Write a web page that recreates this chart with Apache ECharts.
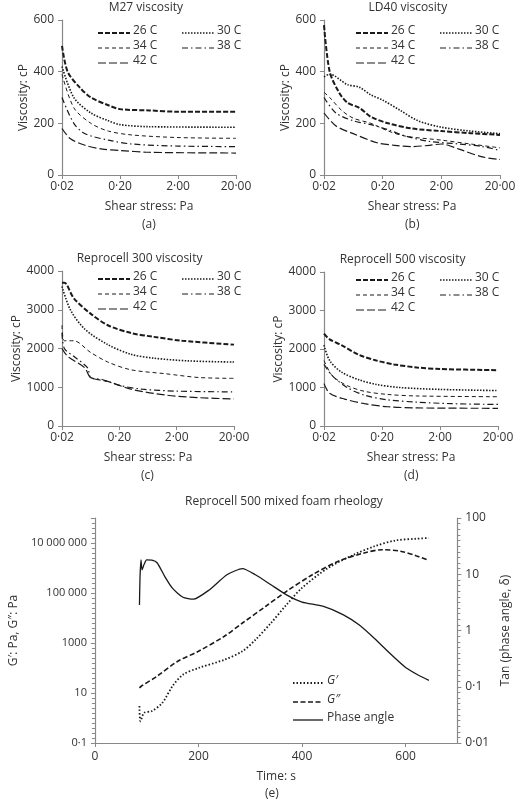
<!DOCTYPE html>
<html><head><meta charset="utf-8">
<script src="https://cdn.jsdelivr.net/npm/echarts@6/dist/echarts.min.js"></script>
<style>html,body{margin:0;background:#fff}#c{width:520px;height:802px}</style>
</head><body><div id="c"></div>
<script>
// viscosity curves: [shear stress Pa, viscosity cP]
const m27_26 = [[0.02,500],[0.025,400],[0.04,340],[0.063,300],[0.126,270],[0.2,255],[0.63,250],[2,245],[20,245]];
const m27_30 = [[0.02,420],[0.032,300],[0.063,240],[0.126,210],[0.2,195],[0.63,187],[20,185]];
const m27_34 = [[0.02,390],[0.032,260],[0.063,200],[0.126,170],[0.32,155],[2,145],[20,142]];
const m27_38 = [[0.02,300],[0.032,200],[0.05,160],[0.126,135],[0.32,120],[2,112],[20,110]];
const m27_42 = [[0.02,180],[0.028,140],[0.05,115],[0.1,100],[0.2,95],[0.63,88],[20,85]];

const ld_26 = [[0.02,580],[0.025,400],[0.036,320],[0.05,280],[0.08,260],[0.126,225],[0.25,200],[0.63,180],[2,170],[6.3,162],[20,155]];
const ld_30 = [[0.02,380],[0.025,390],[0.05,350],[0.08,340],[0.126,310],[0.2,290],[0.4,250],[0.8,210],[2,185],[6.3,170],[20,160]];
const ld_34 = [[0.02,320],[0.025,300],[0.04,250],[0.063,220],[0.126,200],[0.25,170],[0.5,150],[2,135],[6.3,120],[20,105]];
const ld_38 = [[0.02,300],[0.032,240],[0.063,210],[0.126,195],[0.25,175],[0.5,150],[1.26,130],[4,120],[10,110],[20,95]];
const ld_42 = [[0.02,240],[0.032,190],[0.063,160],[0.16,125],[0.32,115],[0.63,110],[1.26,115],[2,120],[4,100],[10,70],[20,60]];

const r300_26 = [[0.02,3700],[0.022,3700],[0.032,3300],[0.063,2900],[0.126,2600],[0.32,2400],[0.8,2300],[2.5,2200],[20,2100]];
const r300_30 = [[0.02,3600],[0.028,3000],[0.05,2500],[0.126,2100],[0.32,1850],[0.8,1750],[3.2,1680],[20,1650]];
const r300_34 = [[0.02,2600],[0.022,2200],[0.032,2200],[0.063,1900],[0.126,1650],[0.32,1450],[1.26,1350],[5,1250],[20,1230]];
const r300_38 = [[0.02,2400],[0.022,2000],[0.032,1800],[0.056,1500],[0.063,1250],[0.1,1200],[0.2,1050],[0.5,950],[2,900],[20,880]];
const r300_42 = [[0.02,2000],[0.025,1800],[0.05,1500],[0.063,1250],[0.126,1150],[0.32,950],[1.26,800],[5,730],[20,700]];

const r500_26 = [[0.02,2400],[0.025,2250],[0.04,2100],[0.08,1850],[0.16,1700],[0.32,1600],[0.8,1520],[2,1480],[20,1450]];
const r500_30 = [[0.02,2100],[0.025,1700],[0.04,1400],[0.08,1200],[0.16,1080],[0.4,1000],[2,950],[20,920]];
const r500_34 = [[0.02,1700],[0.028,1300],[0.05,1050],[0.1,900],[0.25,820],[0.8,780],[20,760]];
const r500_38 = [[0.02,1600],[0.028,1300],[0.05,1000],[0.1,800],[0.25,680],[0.8,620],[3.2,580],[20,560]];
const r500_42 = [[0.02,1100],[0.025,850],[0.045,700],[0.1,580],[0.25,500],[0.8,470],[20,460]];

// foam rheology: [time s, value]
const gPrime = [[86,3],[88,0.74],[95,1.6],[110,1.9],[130,4],[150,19],[170,54],[200,100],[250,214],[285,470],[310,1350],[340,6300],[370,34000],[400,160000],[450,1e6],[500,3.4e6],[540,7.4e6],[580,1.26e7],[620,1.48e7],[645,1.58e7]];
const gDouble = [[86,16],[90,19],[120,47],[160,186],[200,468],[250,1860],[285,6300],[330,29500],[370,117000],[420,537000],[470,1.86e6],[520,4e6],[555,5.4e6],[590,4.7e6],[620,3.1e6],[645,2e6]];
const phase = [[86,2.85],[87,8.5],[89,18],[91,12],[95,15],[100,18],[110,17.8],[120,16],[135,9.1],[150,5.6],[170,3.9],[190,3.6],[220,5.2],[255,9.8],[285,12.6],[310,9.8],[340,6.5],[370,4.3],[400,3.2],[440,2.7],[480,1.9],[510,1.26],[540,0.72],[570,0.39],[600,0.22],[625,0.16],[645,0.13]];

const temps = ['26 C','30 C','34 C','38 C','42 C'];
const leftTicks = ['0·1','10','1000','100 000','10 000 000'];
const rightTicks = ['0·01','0·1','1','10','100'];
const styles = [
  {width:2, type:[5,2]},
  {width:1.6, type:[1.5,1.5]},
  {width:1, type:[4,3]},
  {width:1.2, type:[6,3,1.5,3]},
  {width:1.2, type:[8,3]}
];
const ink = '#1a1a1a', grey = '#888', txt = '#333';
const font = '"Open Sans", sans-serif';
const dot = s => s.replace('.', '·');

const panels = [
  {title:'M27 viscosity', tag:'(a)', max:600, step:200, grid:{left:62,top:20,width:174,height:155}, curves:[m27_26,m27_30,m27_34,m27_38,m27_42]},
  {title:'LD40 viscosity', tag:'(b)', max:600, step:200, grid:{left:324,top:20,width:176,height:155}, curves:[ld_26,ld_30,ld_34,ld_38,ld_42]},
  {title:'Reprocell 300 viscosity', tag:'(c)', max:4000, step:1000, grid:{left:62,top:271,width:172,height:155}, curves:[r300_26,r300_30,r300_34,r300_38,r300_42]},
  {title:'Reprocell 500 viscosity', tag:'(d)', max:4000, step:1000, grid:{left:324,top:272,width:174,height:154}, curves:[r500_26,r500_30,r500_34,r500_38,r500_42]}
];

const grids = [], xAxes = [], yAxes = [], series = [], graphic = [];
const axisBase = {
  axisLine:{show:true, lineStyle:{color:grey, width:1.2}},
  axisTick:{show:true, length:4, lineStyle:{color:grey}},
  splitLine:{show:false},
  axisLabel:{color:txt, fontFamily:font, fontSize:12}
};
const text = (x, y, s, extra) => graphic.push({type:'text', left:x, top:y, style:Object.assign({text:s, fill:txt, font:'12px ' + font}, extra || {})});
const legendLine = (x1, x2, y, st) => graphic.push({type:'line', shape:{x1:x1, y1:y, x2:x2, y2:y}, style:{stroke:ink, lineWidth:st.width, lineDash:st.type}});

panels.forEach((p, i) => {
  const g = p.grid;
  grids.push(g);
  xAxes.push(Object.assign({}, axisBase, {gridIndex:i, type:'value', min:0, max:3, interval:1,
    axisLabel:Object.assign({}, axisBase.axisLabel, {margin:6, formatter:v => dot((0.02 * Math.pow(10, v)).toFixed(2))}),
    name:'Shear stress: Pa', nameLocation:'middle', nameGap:26, nameTextStyle:{color:txt, fontFamily:font, fontSize:12}}));
  yAxes.push(Object.assign({}, axisBase, {gridIndex:i, type:'value', min:0, max:p.max, interval:p.step,
    axisLabel:Object.assign({}, axisBase.axisLabel, {formatter:v => String(v)}),
    name:'Viscosity: cP', nameLocation:'middle', nameGap:p.max > 1000 ? 34 : 28, nameTextStyle:{color:txt, fontFamily:font, fontSize:12}}));
  p.curves.forEach((c, k) => series.push({type:'line', xAxisIndex:i, yAxisIndex:i, showSymbol:false, smooth:0.3,
    lineStyle:{color:ink, width:styles[k].width, type:styles[k].type},
    data:c.map(d => [Math.log10(d[0] / 0.02), d[1]])}));
  const cx = g.left + g.width / 2;
  graphic.push({type:'text', left:cx - p.title.length * 3.1, top:g.top - 18, style:{text:p.title, fill:txt, font:'12px ' + font}});
  text(cx - 7, g.top + g.height + 44, p.tag);
  // legend
  const lx = g.left + (i % 2 ? 32 : 36), ly = g.top + (i < 2 ? 13 : 8);
  const col2 = lx + 84;
  [[0, lx, 0], [1, col2, 0], [2, lx, 1], [3, col2, 1], [4, lx, 2]].forEach(([k, x, r]) => {
    const y = ly + r * 15;
    legendLine(x, x + 32, y, styles[k]);
    text(x + 35, y - 8, temps[k]);
  });
});

// panel (e)
const e = {left:77, top:518, width:391, height:225};
grids.push(e);
xAxes.push(Object.assign({}, axisBase, {gridIndex:4, type:'value', min:0, max:700, interval:200,
  axisLabel:Object.assign({}, axisBase.axisLabel, {showMaxLabel:false}),
  name:'Time: s', nameLocation:'middle', nameGap:28, nameTextStyle:{color:txt, fontFamily:font, fontSize:12}}));
yAxes.push(Object.assign({}, axisBase, {gridIndex:4, type:'value', min:0, max:9, interval:2,
  axisLabel:Object.assign({}, axisBase.axisLabel, {fontSize:11, showMaxLabel:false, formatter:v => leftTicks[v / 2] || ''}),
  minorTick:{show:true, splitNumber:10, length:3, lineStyle:{color:grey}},
  name:'G′: Pa, G″: Pa', nameLocation:'middle', nameGap:64, nameTextStyle:{color:txt, fontFamily:font, fontSize:12}}));
yAxes.push(Object.assign({}, axisBase, {gridIndex:4, type:'value', position:'right', min:0, max:4, interval:1,
  axisLabel:Object.assign({}, axisBase.axisLabel, {formatter:v => rightTicks[v]}),
  minorTick:{show:true, splitNumber:10, length:3, lineStyle:{color:grey}},
  name:'Tan (phase angle, δ)', nameLocation:'middle', nameGap:34, nameRotate:90, nameTextStyle:{color:txt, fontFamily:font, fontSize:12}}));
series.push({type:'line', xAxisIndex:4, yAxisIndex:4, showSymbol:false, smooth:0.3,
  lineStyle:{color:ink, width:1.8, type:[1.5,2]}, data:gPrime.map(d => [d[0], Math.log10(d[1]) + 1])});
series.push({type:'line', xAxisIndex:4, yAxisIndex:4, showSymbol:false, smooth:0.3,
  lineStyle:{color:ink, width:1.6, type:[5,2.5]}, data:gDouble.map(d => [d[0], Math.log10(d[1]) + 1])});
series.push({type:'line', xAxisIndex:4, yAxisIndex:5, showSymbol:false, smooth:0.2,
  lineStyle:{color:ink, width:1.3}, data:phase.map(d => [d[0], Math.log10(d[1]) + 2])});
text(185, 496, 'Reprocell 500 mixed foam rheology');
text(265, 788, '(e)');
legendLine(293, 323, 683, {width:1.8, type:[1.5,2]});
text(327, 675, 'G′', {font:'italic 12px ' + font});
legendLine(293, 323, 702, {width:1.6, type:[5,2.5]});
text(327, 694, 'G″', {font:'italic 12px ' + font});
legendLine(293, 323, 720, {width:1.3});
text(327, 712, 'Phase angle');

const chart = echarts.init(document.getElementById('c'), null, {renderer:'canvas'});
chart.setOption({animation:false, grid:grids, xAxis:xAxes, yAxis:yAxes, series:series, graphic:graphic});
</script></body></html>
